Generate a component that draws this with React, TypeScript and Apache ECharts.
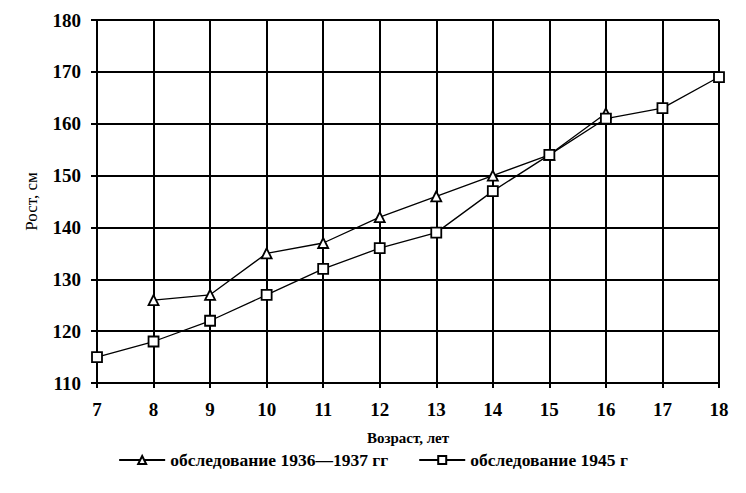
import React, { useEffect, useRef } from "react";
import * as echarts from "echarts";

const ages = ["7", "8", "9", "10", "11", "12", "13", "14", "15", "16", "17", "18"];
const survey1936: (number | null)[] = [null, 126, 127, 135, 137, 142, 146, 150, 154, 162, null, null];
const survey1945: number[] = [115, 118, 122, 127, 132, 136, 139, 147, 154, 161, 163, 169];
const seriesNames = ["обследование 1936—1937 гг", "обследование 1945 г"];

export default function App() {
  const ref = useRef<HTMLDivElement>(null);
  useEffect(() => {
    if (!ref.current) return;
    const chart = echarts.init(ref.current, null, { renderer: "svg" });
    const font = "Liberation Serif";
    chart.setOption({
      animation: false,
      backgroundColor: "#fff",
      textStyle: { fontFamily: font, color: "#000" },
      grid: { left: 97, right: 27, top: 20, bottom: 110 },
      legend: {
        bottom: 19,
        left: "center",
        itemWidth: 46,
        itemHeight: 10,
        itemGap: 30,
        textStyle: { fontFamily: font, fontSize: 17.5, color: "#000", fontWeight: "bold" },
        data: seriesNames,
      },
      xAxis: {
        type: "category",
        data: ages,
        boundaryGap: false,
        name: "Возраст, лет",
        nameLocation: "middle",
        nameGap: 47,
        nameTextStyle: { fontFamily: font, fontSize: 15, fontWeight: "bold", color: "#000" },
        axisLine: { lineStyle: { color: "#000", width: 2 } },
        axisTick: { show: true, length: 5, lineStyle: { color: "#000", width: 2 } },
        axisLabel: { fontFamily: font, fontSize: 19, fontWeight: "bold", color: "#000", margin: 17 },
        splitLine: { show: true, lineStyle: { color: "#000", width: 2 } },
      },
      yAxis: {
        type: "value",
        min: 110,
        max: 180,
        interval: 10,
        name: "Рост, см",
        nameLocation: "middle",
        nameGap: 57,
        nameRotate: 90,
        nameTextStyle: { fontFamily: font, fontSize: 17, color: "#000" },
        axisLine: { show: true, lineStyle: { color: "#000", width: 2 } },
        axisTick: { show: true, length: 6, lineStyle: { color: "#000", width: 2 } },
        axisLabel: { fontFamily: font, fontSize: 19, fontWeight: "bold", color: "#000", margin: 16 },
        splitLine: { show: true, lineStyle: { color: "#000", width: 2 } },
      },
      series: [
        {
          name: seriesNames[0],
          type: "line",
          data: survey1936,
          symbol: "triangle",
          symbolSize: 10,
          showAllSymbol: true,
          lineStyle: { color: "#000", width: 1.3 },
          itemStyle: { color: "#fff", borderColor: "#000", borderWidth: 1.8 },
          z: 3,
        },
        {
          name: seriesNames[1],
          type: "line",
          data: survey1945,
          symbol: "rect",
          symbolSize: 10,
          showAllSymbol: true,
          lineStyle: { color: "#000", width: 1.3 },
          itemStyle: { color: "#fff", borderColor: "#000", borderWidth: 1.8 },
          z: 4,
        },
      ],
    });
    return () => chart.dispose();
  }, []);
  return <div ref={ref} style={{ width: 746, height: 493, position: "absolute", left: 0, top: 0 }} />;
}
